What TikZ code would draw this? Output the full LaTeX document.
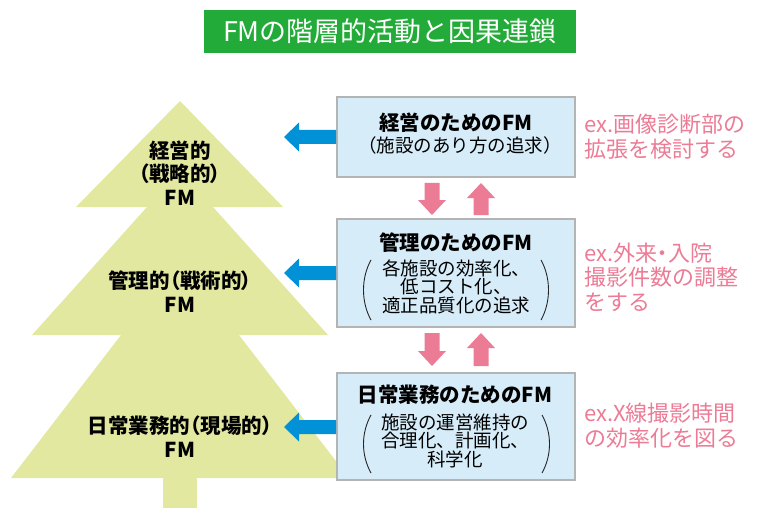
\documentclass[tikz,border=0pt]{standalone}
\usepackage{fontspec}
\setmainfont{Noto Sans CJK JP}
\newfontfamily\jpp{Noto Sans CJK JP}[RawFeature=+palt]
\definecolor{titlegreen}{HTML}{22AB38}
\definecolor{treecol}{HTML}{E2E89F}
\definecolor{bluearr}{HTML}{0091D6}
\definecolor{pinkcol}{HTML}{EC7B95}
\definecolor{boxfill}{HTML}{D6ECF8}
\definecolor{boxline}{HTML}{B4B4B4}
\tikzset{
  treetext/.style={inner sep=0pt, align=center, text=black, font=\jpp\bfseries\fontsize{20.5}{23.5}\selectfont},
  fmbox/.style={draw=boxline, line width=1.6pt, fill=boxfill, minimum width=238pt, inner sep=0pt},
  boxtitle/.style={inner sep=0pt, font=\bfseries\fontsize{20.5}{24}\selectfont},
  boxsub/.style={inner sep=0pt, align=center, font=\fontsize{18.5}{18.5}\selectfont},
  pinktext/.style={inner sep=0pt, anchor=west, align=left, text=pinkcol, font=\fontsize{22}{24.5}\selectfont},
  paren/.style={line width=0.9pt, draw=black!85},
  barrow/.style={fill=bluearr},
  parrow/.style={fill=pinkcol},
}
\begin{document}
\begin{tikzpicture}[x=1pt,y=-1pt]
\useasboundingbox (0,0) rectangle (758,508);
% title
\node[fill=titlegreen, minimum width=372pt, minimum height=43pt, inner sep=0pt, text=white,
  font=\fontsize{27}{30}\selectfont] (title) at (390,31.5) {FMの階層的活動と因果連鎖};
% tree
\fill[treecol] (163,478) rectangle (197,508);
\fill[treecol] (11,478) -- (121,335) -- (239,335) -- (349,478) -- cycle;
\fill[treecol] (32,335) -- (147,207) -- (213,207) -- (328,335) -- cycle;
\fill[treecol] (76,207) -- (180,101) -- (283,207) -- cycle;
\node[treetext] (t1) at (180,173) {経営的\\（戦略的）\\FM};
\node[treetext] (t2) at (180,291.5) {管理的（戦術的）\\FM};
\node[treetext] (t3) at (180,436.5) {日常業務的（現場的）\\FM};
% boxes
\node[fmbox, minimum height=80pt] (b1) at (456,137) {};
\node[fmbox, minimum height=108pt] (b2) at (456,273) {};
\node[fmbox, minimum height=107pt] (b3) at (456,426.5) {};
\node[boxtitle] (b1t) at (456,123) {経営のためのFM};
\node[boxsub] (b1s) at (460,145) {（施設のあり方の追求）};
\node[boxtitle] (b2t) at (456,243) {管理のためのFM};
\node[boxsub] (b2s) at (456,286.5) {各施設の効率化、\\低コスト化、\\適正品質化の追求};
\node[boxtitle] (b3t) at (455,395) {日常業務のためのFM};
\node[boxsub] (b3s) at (455,440.5) {施設の運営維持の\\合理化、計画化、\\科学化};
% large parentheses
\draw[paren] (371,260) .. controls (361,278) and (361,302) .. (371,320);
\draw[paren] (541,260) .. controls (551,278) and (551,302) .. (541,320);
\draw[paren] (371,415) .. controls (361,433) and (361,455) .. (371,473);
\draw[paren] (542,415) .. controls (552,433) and (552,455) .. (542,473);
% blue arrows
\foreach \c in {137,273,427}{
  \fill[barrow] (b1.west |- 0,{\c-7}) -- (299,{\c-7}) -- (299,{\c-14.5}) -- (284,\c) -- (299,{\c+14.5}) -- (299,{\c+7}) -- (b1.west |- 0,{\c+7}) -- cycle;
}
% pink arrows
\foreach \t/\b in {183/215,333/366}{
  \fill[parrow] (424.5,\t) -- (439.5,\t) -- (439.5,{\b-15}) -- (446,{\b-15}) -- (432,\b) -- (418,{\b-15}) -- (424.5,{\b-15}) -- cycle;
  \fill[parrow] (473.5,\b) -- (488.5,\b) -- (488.5,{\t+15}) -- (495,{\t+15}) -- (481,\t) -- (467,{\t+15}) -- (473.5,{\t+15}) -- cycle;
}
% pink examples
\node[pinktext] (e1) at (584,136.5) {ex.画像診断部の\\拡張を検討する};
\node[pinktext] (e2) at (584,277) {ex.外来{\jpp ・}入院\\撮影件数の調整\\をする};
\node[pinktext] (e3) at (584,425.5) {ex.X線撮影時間\\の効率化を図る};
\end{tikzpicture}
\end{document}
